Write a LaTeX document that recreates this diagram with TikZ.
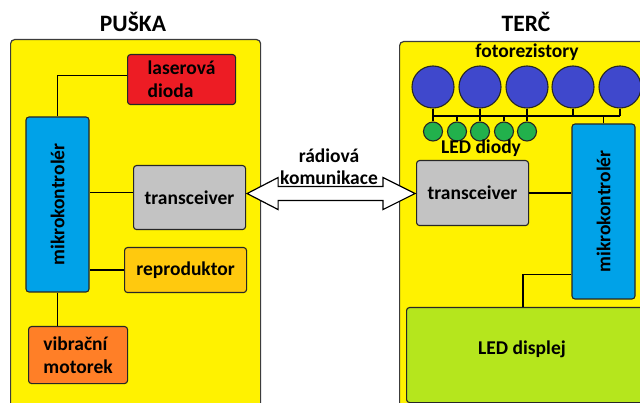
\documentclass[tikz,border=0pt]{standalone}
\usepackage{fontspec}
\setmainfont{Carlito}
\usetikzlibrary{calc}
\definecolor{panelY}{HTML}{FFF200}
\definecolor{laserR}{HTML}{ED1C24}
\definecolor{mcuB}{HTML}{00A2E8}
\definecolor{trG}{HTML}{C3C3C3}
\definecolor{repY}{HTML}{FFC90E}
\definecolor{vibO}{HTML}{FF7F27}
\definecolor{fotoB}{HTML}{3F48CC}
\definecolor{ledG}{HTML}{22B14C}
\definecolor{dispG}{HTML}{B5E61D}
\definecolor{edgeC}{HTML}{262626}
\begin{document}
\begin{tikzpicture}[x=1pt,y=-1pt,
  txt/.style={font=\fontsize{19.5}{23}\selectfont\bfseries, text=black},
  ttl/.style={font=\fontsize{23.5}{28}\selectfont\bfseries, text=black, anchor=base},
  panel/.style={draw=edgeC!90, fill=panelY, line width=1.2pt, rounded corners=4pt, inner sep=0pt, anchor=north west},
  blk/.style={draw=edgeC, line width=1.1pt, rounded corners=3pt, inner sep=0pt, anchor=north west, txt, align=left},
  cblk/.style={draw=edgeC, line width=1.1pt, rounded corners=3pt, inner sep=0pt},
  big/.style={circle, draw=edgeC, line width=1.1pt, fill=fotoB, minimum size=42pt, inner sep=0pt},
  small/.style={circle, draw=edgeC, line width=1.1pt, fill=ledG, minimum size=19pt, inner sep=0pt},
  wire/.style={draw=black, line width=1.2pt},
  arrowshape/.style={draw=black, fill=white, line width=1.2pt, line join=miter}
]
\useasboundingbox (0,0) rectangle (640,403);
\clip (0,0) rectangle (640,403);
\fill[white] (0,0) rectangle (640,403);

% titles
\node[ttl] (tPuska) at (133,32) {PUŠKA};
\node[ttl] (tTerc) at (526,32) {TERČ};

% panels
\node[panel, minimum width=250pt, minimum height=400pt] (panelL) at (10,39) {};
\node[panel, minimum width=260pt, minimum height=400pt] (panelR) at (399,41) {};

% left side blocks
\node[blk, fill=laserR, minimum width=108pt, minimum height=50pt] (laser) at (127,54) {laserová\\dioda};
\node[cblk, fill=mcuB, minimum width=63pt, minimum height=175pt] (mkL) at (57.5,204.5) {};
\node[txt, rotate=90] (mkLt) at (mkL) {mikrokontrolér};
\node[blk, fill=trG, minimum width=112pt, minimum height=64pt] (trL) at (133,165) {transceiver};
\node[blk, fill=repY, minimum width=122pt, minimum height=45pt] (repro) at (124,247) {reproduktor};
\node[blk, fill=vibO, minimum width=99pt, minimum height=57pt] (vib) at (28,326) {vibrační\\motorek};

% left wires
\draw[wire] (mkL.north) |- ([yshift=4pt]laser.west);
\draw[wire] ([yshift=5pt]trL.west) -- ([yshift=5pt]trL.west -| mkL.east);
\draw[wire] (repro.west) -- (repro.west -| mkL.east);
\draw[wire] (mkL.south) -- (mkL.south |- vib.north);

% right side blocks
\node[txt, anchor=base] (fotoT) at (527,58) {fotorezistory};
\node[big] (f1) at (433,87) {};
\node[big] (f2) at (480,87) {};
\node[big] (f3) at (527,87) {};
\node[big] (f4) at (573,87) {};
\node[big] (f5) at (620,87) {};
\node[small] (g1) at (433,131.5) {};
\node[small] (g2) at (457,131.5) {};
\node[small] (g3) at (480,131.5) {};
\node[small] (g4) at (504,131.5) {};
\node[small] (g5) at (527,131.5) {};
\node[txt, anchor=base] (ledT) at (481,154) {LED diody};
\node[blk, fill=trG, minimum width=112pt, minimum height=65pt] (trR) at (416,160) {transceiver};
\node[cblk, fill=mcuB, minimum width=63pt, minimum height=175pt] (mkR) at (603.5,211.5) {};
\node[txt, rotate=90] (mkRt) at (mkR) {mikrokontrolér};
\node[blk, fill=dispG, minimum width=240pt, minimum height=95pt, align=center] (disp) at (406,307) {};
\node[txt] (dispT) at (522,349) {LED displej};

% right wires
\coordinate (bus) at (0,116);
\foreach \n in {f1,f2,f3,f4,f5} {\draw[wire] (\n.south) -- (\n |- bus);}
\foreach \n in {g1,g2,g3,g4,g5} {\draw[wire] (\n.north) -- (\n |- bus);}
\draw[wire] (f1 |- bus) -- (f5 |- bus);
\draw[wire] (mkR.north) -- (mkR.north |- bus);
\draw[wire] (trR.east) -- (trR.east -| mkR.west);
\draw[wire] ($(mkR.south west)+(0,-25)$) -| ($(disp.north west)+(117,0)$);

% radio link
\coordinate (aL) at ($(trL.east)+(1,-4)$);
\coordinate (aR) at ($(trR.west)+(-1,0.5)$);
\draw[arrowshape] (aL) -- ++(31,-16) -- ++(0,9) -- ($(aR)+(-32,-7)$) -- ++(0,-9) -- (aR)
  -- ++(-32,16) -- ++(0,-9) -- ($(aL)+(31,7)$) -- ++(0,9) -- cycle;
\node[txt, anchor=base] (rad1) at (329,163) {rádiová};
\node[txt, anchor=base] (rad2) at (329,185) {komunikace};
\end{tikzpicture}
\end{document}
